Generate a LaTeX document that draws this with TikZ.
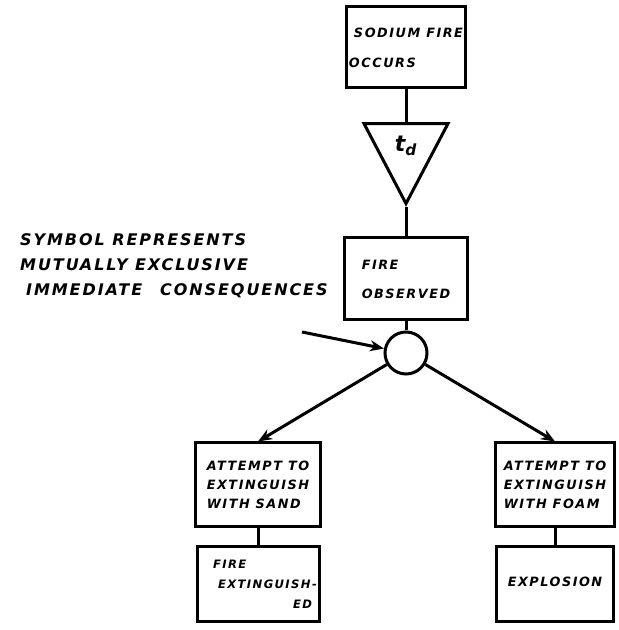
\documentclass[tikz,border=0pt]{standalone}
\usepackage{fontspec}
\newfontfamily\handfont[LetterSpace=12]{DejaVu Sans}
\usepackage{tikz}
\usetikzlibrary{arrows,arrows.meta,shapes,positioning}
\tikzstyle{line} = [line width=3pt]
\tikzstyle{arrow} = [line width=3pt,-{Stealth[length=14pt,width=11pt]}]
\tikzstyle{event} = [rectangle, draw, line width=3pt, inner sep=2pt, align=left, font=\handfont\bfseries\itshape\fontsize{12.8}{19}\selectfont]
\tikzstyle{delaybox} = [isosceles triangle, shape border rotate=270, isosceles triangle stretches, draw, line width=3pt, inner sep=0pt, minimum width=84pt, minimum height=80pt]
\tikzstyle{split} = [circle, draw, line width=3pt, minimum size=42pt, inner sep=0pt]

\begin{document}
\begin{tikzpicture}[x=1pt,y=1pt]
\useasboundingbox (0,0) rectangle (619,630);
% Fire and delay
\node (occurs) [event, minimum width=117pt, minimum height=81pt, font=\handfont\bfseries\itshape\fontsize{12.8}{30}\selectfont] at (406,582.5) {\hspace{5pt}SODIUM FIRE\\OCCURS};
\node (delay) [delaybox] at (406,484) {\raisebox{-5pt}{\handfont\bfseries\itshape\fontsize{22}{22}\selectfont t\textsubscript{d}}};
\node (observed) [event, minimum width=123pt, minimum height=82pt, font=\handfont\bfseries\itshape\fontsize{12.8}{29}\selectfont] at (406,351) {FIRE\\OBSERVED};
\node (fork) [split] at (406,277) {};

% Consequences
\node (sand) [event, minimum width=125pt, minimum height=84pt] at (258,145) {ATTEMPT TO\\EXTINGUISH\\WITH SAND};
\node (foam) [event, minimum width=119pt, minimum height=84pt] at (555,145) {ATTEMPT TO\\EXTINGUISH\\WITH FOAM};
\node (extinguished) [event, minimum width=122pt, minimum height=75pt, text width=118pt, font=\handfont\bfseries\itshape\fontsize{11.6}{20}\selectfont] at (258,45.5) {\raisebox{-4pt}{\hspace{14pt}FIRE}\\\raisebox{-4pt}{\hspace{19pt}EXTINGUISH-}\\\raisebox{-4pt}{\hspace{94pt}ED}};
\node (explosion) [event, minimum width=117pt, minimum height=75pt] at (555,45.5) {\raisebox{5pt}{EXPLOSION}};

% Note on the symbol
\node (note) [anchor=north west, align=left, inner sep=0pt, font=\handfont\bfseries\itshape\fontsize{16}{25}\selectfont] at (20,397) {SYMBOL REPRESENTS\\MUTUALLY EXCLUSIVE\\\hspace{6pt}IMMEDIATE\hspace{18pt}CONSEQUENCES};
\coordinate (notetail) at (302,298);

\draw[line] (occurs) -- (delay.north);
\draw[line] (delay.apex) -- (observed);
\draw[line] (observed) -- (fork);
\draw[arrow] (notetail) -- (fork);
\draw[arrow] (fork) -- (sand.north);
\draw[arrow] (fork) -- (foam.north);
\draw[line] (sand) -- (extinguished);
\draw[line] (foam) -- (explosion);
\end{tikzpicture}
\end{document}
